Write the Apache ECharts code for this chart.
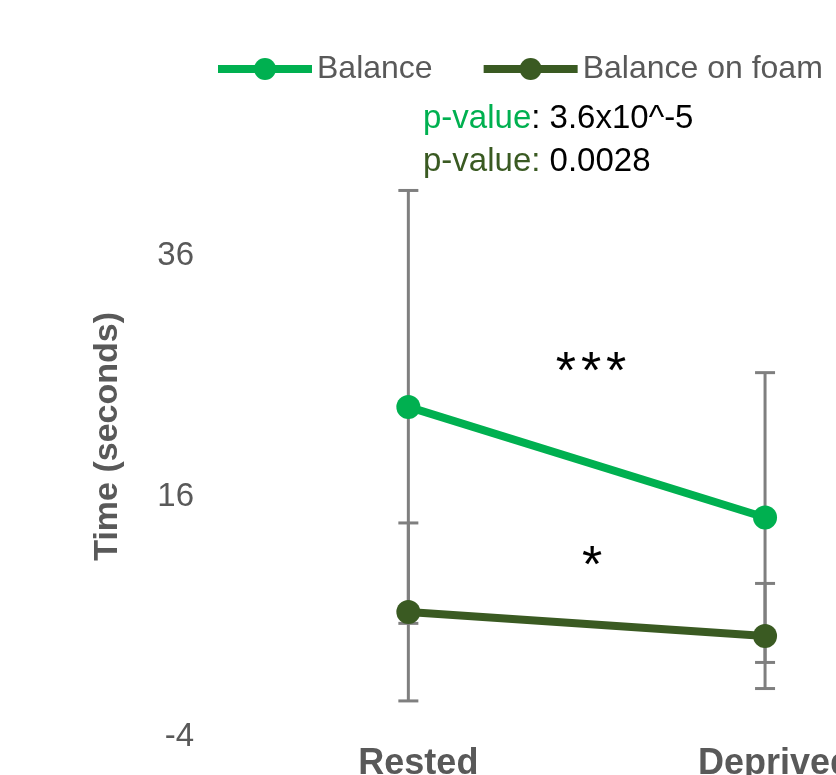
<!DOCTYPE html>
<html>
<head>
<meta charset="utf-8">
<title>Balance time: rested vs deprived</title>
<script src="https://cdn.jsdelivr.net/npm/echarts@6/dist/echarts.min.js"></script>
<style>
  html, body { margin: 0; padding: 0; background: #ffffff; }
  #chart { width: 836px; height: 775px; }
</style>
</head>
<body>
<div id="chart"></div>
<script>
// Conditions on the x axis
const conditions = ['Rested', 'Deprived'];

// Mean balance time (seconds) and standard deviation per condition
const balanceMean = [23.45, 14.25];
const balanceSD = [18.0, 12.05];
const foamMean = [6.4, 4.4];
const foamSD = [7.4, 4.37];

// Series names and y tick labels
const seriesNames = ['Balance', 'Balance on foam'];
const yTicks = [-4, 16, 36];

// Significance annotations
const pValues = ['3.6x10^-5', '0.0028'];
const starCounts = [3, 1];

const GREEN = '#00b050';
const DARK = '#3a5a22';
const GREY_TEXT = '#595959';
const ERR = '#7f7f7f';
const FONT = '"Liberation Sans", Arial, sans-serif';

const chart = echarts.init(document.getElementById('chart'), null, { renderer: 'canvas' });

// Error bar renderer: vertical whisker with caps, mean ± SD
function errorBars(means, sds) {
  return {
    type: 'custom',
    z: 1,
    clip: false,
    silent: true,
    data: means.map((m, i) => [i, m - sds[i], m + sds[i]]),
    renderItem: function (params, api) {
      const lo = api.coord([api.value(0), api.value(1)]);
      const hi = api.coord([api.value(0), api.value(2)]);
      const half = 10;
      const style = { stroke: ERR, lineWidth: 3 };
      return {
        type: 'group',
        children: [
          { type: 'line', shape: { x1: lo[0], y1: lo[1], x2: hi[0], y2: hi[1] }, style },
          { type: 'line', shape: { x1: hi[0] - half, y1: hi[1], x2: hi[0] + half, y2: hi[1] }, style },
          { type: 'line', shape: { x1: lo[0] - half, y1: lo[1], x2: lo[0] + half, y2: lo[1] }, style }
        ]
      };
    }
  };
}

// Asterisks spaced apart as individual rich-text tokens
function starText(n) {
  return Array.from({ length: n }, () => '{s|*}').join('');
}

const option = {
  backgroundColor: '#ffffff',
  animation: false,
  textStyle: { fontFamily: FONT },
  legend: {
    data: seriesNames,
    left: 209,
    top: 48,
    width: 640,
    itemWidth: 94,
    itemHeight: 27.5,
    itemGap: 47,
    lineStyle: { width: 8 },
    textStyle: { color: GREY_TEXT, fontSize: 32, fontFamily: FONT }
  },
  grid: { left: 230, top: 135.75, bottom: 38, width: 713.4, outerBoundsMode: 'none', containLabel: false },
  xAxis: {
    type: 'category',
    data: conditions,
    boundaryGap: true,
    axisLine: { show: false },
    axisTick: { show: false },
    axisLabel: {
      color: GREY_TEXT,
      fontSize: 36,
      fontWeight: 'bold',
      fontFamily: FONT,
      margin: 9,
      padding: [0, 0, 0, 20]
    }
  },
  yAxis: {
    type: 'value',
    min: -4,
    max: 46,
    interval: 20,
    name: 'Time (seconds)',
    nameLocation: 'middle',
    nameGap: 105,
    nameRotate: 90,
    nameTextStyle: { color: GREY_TEXT, fontSize: 34, fontWeight: 'bold', fontFamily: FONT },
    axisLine: { show: false },
    axisTick: { show: false },
    splitLine: { show: false },
    axisLabel: {
      color: GREY_TEXT,
      fontSize: 33,
      fontFamily: FONT,
      margin: 36,
      padding: [12, 0, 0, 0],
      showMaxLabel: false,
      formatter: v => (yTicks.indexOf(v) >= 0 ? String(v) : '')
    }
  },
  series: [
    errorBars(balanceMean, balanceSD),
    errorBars(foamMean, foamSD),
    {
      name: seriesNames[0],
      type: 'line',
      z: 3,
      data: balanceMean,
      symbol: 'circle',
      symbolSize: 24,
      color: GREEN,
      itemStyle: { color: GREEN },
      lineStyle: { color: GREEN, width: 8 }
    },
    {
      name: seriesNames[1],
      type: 'line',
      z: 3,
      data: foamMean,
      symbol: 'circle',
      symbolSize: 24,
      color: DARK,
      itemStyle: { color: DARK },
      lineStyle: { color: DARK, width: 8 }
    }
  ],
  graphic: [
    {
      type: 'text', left: 423, top: 102,
      style: {
        text: '{g|p-value}{k|: ' + pValues[0] + '}',
        rich: {
          g: { fill: GREEN, fontSize: 33, fontFamily: FONT },
          k: { fill: '#000000', fontSize: 33, fontFamily: FONT }
        }
      }
    },
    {
      type: 'text', left: 423, top: 145,
      style: {
        text: '{d|p-value:}{k| ' + pValues[1] + '}',
        rich: {
          d: { fill: DARK, fontSize: 33, fontFamily: FONT },
          k: { fill: '#000000', fontSize: 33, fontFamily: FONT }
        }
      }
    },
    {
      type: 'text', x: 591, y: 374,
      style: {
        text: starText(starCounts[0]), align: 'center', verticalAlign: 'middle',
        rich: { s: { fill: '#000000', fontSize: 52, fontFamily: FONT, padding: [0, 2.5] } }
      }
    },
    {
      type: 'text', x: 592, y: 568,
      style: {
        text: starText(starCounts[1]), align: 'center', verticalAlign: 'middle',
        rich: { s: { fill: '#000000', fontSize: 52, fontFamily: FONT, padding: [0, 2.5] } }
      }
    }
  ]
};

chart.setOption(option);
</script>
</body>
</html>
